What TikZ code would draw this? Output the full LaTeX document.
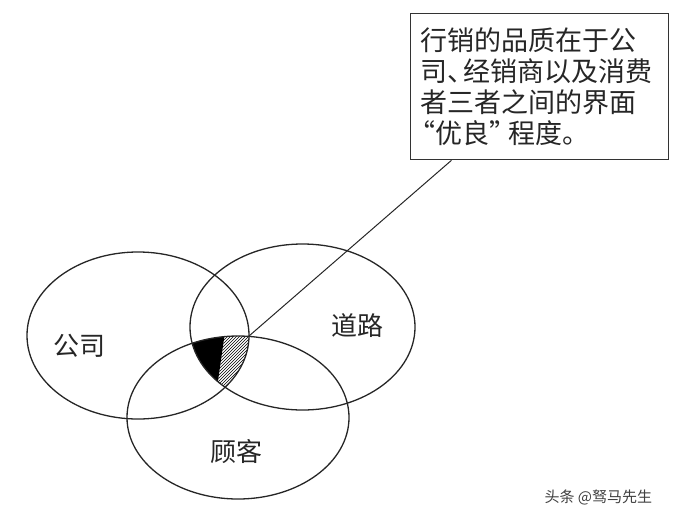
\documentclass[tikz,border=0pt]{standalone}
\usepackage{fontspec}
\setmainfont{Noto Sans CJK SC}
\usetikzlibrary{calc}
\usetikzlibrary{patterns}
\tikzstyle{ring}=[line width=1.3pt,draw=black!85]
\tikzstyle{setlabel}=[font=\fontsize{26}{26}\selectfont,text=black!85]
\tikzstyle{notebox}=[draw=black!80,line width=1.3pt,anchor=north west,
  text width=238pt,minimum height=146pt,inner xsep=10pt,align=left,
  font=\fontsize{27}{31}\selectfont,text=black!85]

\begin{document}
\begin{tikzpicture}[x=1pt,y=-1pt]
	\useasboundingbox (0,0) rectangle (685,522);
	\coordinate (ca) at (138,335.5);
	\coordinate (cb) at (302.5,327);
	\coordinate (cc) at (238,417.5);
	% shaded part common to all three
	\begin{scope}
	  \clip (ca) ellipse [x radius=111pt,y radius=83.5pt];
	  \clip (cb) ellipse [x radius=112.5pt,y radius=83pt];
	  \clip (cc) ellipse [x radius=111pt,y radius=81.5pt];
	  \fill[black] (180,325) -- (226,325) -- (216,395) -- (180,395) -- cycle;
	  \fill[pattern=north east lines] (226,325) -- (260,325) -- (260,395) -- (216,395) -- cycle;
	\end{scope}
	\draw[ring] (ca) ellipse [x radius=111pt,y radius=83.5pt];
	\draw[ring] (cb) ellipse [x radius=112.5pt,y radius=83pt];
	\draw[ring] (cc) ellipse [x radius=111pt,y radius=81.5pt];
	\node[setlabel] (gongsi) at (79,346) {公司};
	\node[setlabel] (daolu) at (357,326) {道路};
	\node[setlabel] (guke) at (236,452) {顾客};
	\node[notebox] (note) at (410,13)
	  {行销的品质在于公\\司、\hspace*{-.4em}经销商以及消费\\者三者之间的界面\\\hspace*{-.45em}“优良”\hspace*{-.3em}程度。};
	\coordinate (tip) at (249,336);
	\draw[line width=1pt,black!85] (tip) -- ($(note.south west)!0.16!(note.south east)$);
	\node[font=\fontsize{15}{15}\selectfont,text=black!75,anchor=west] (mark) at (541,497) {头条 @驽马先生};
\end{tikzpicture}
\end{document}
